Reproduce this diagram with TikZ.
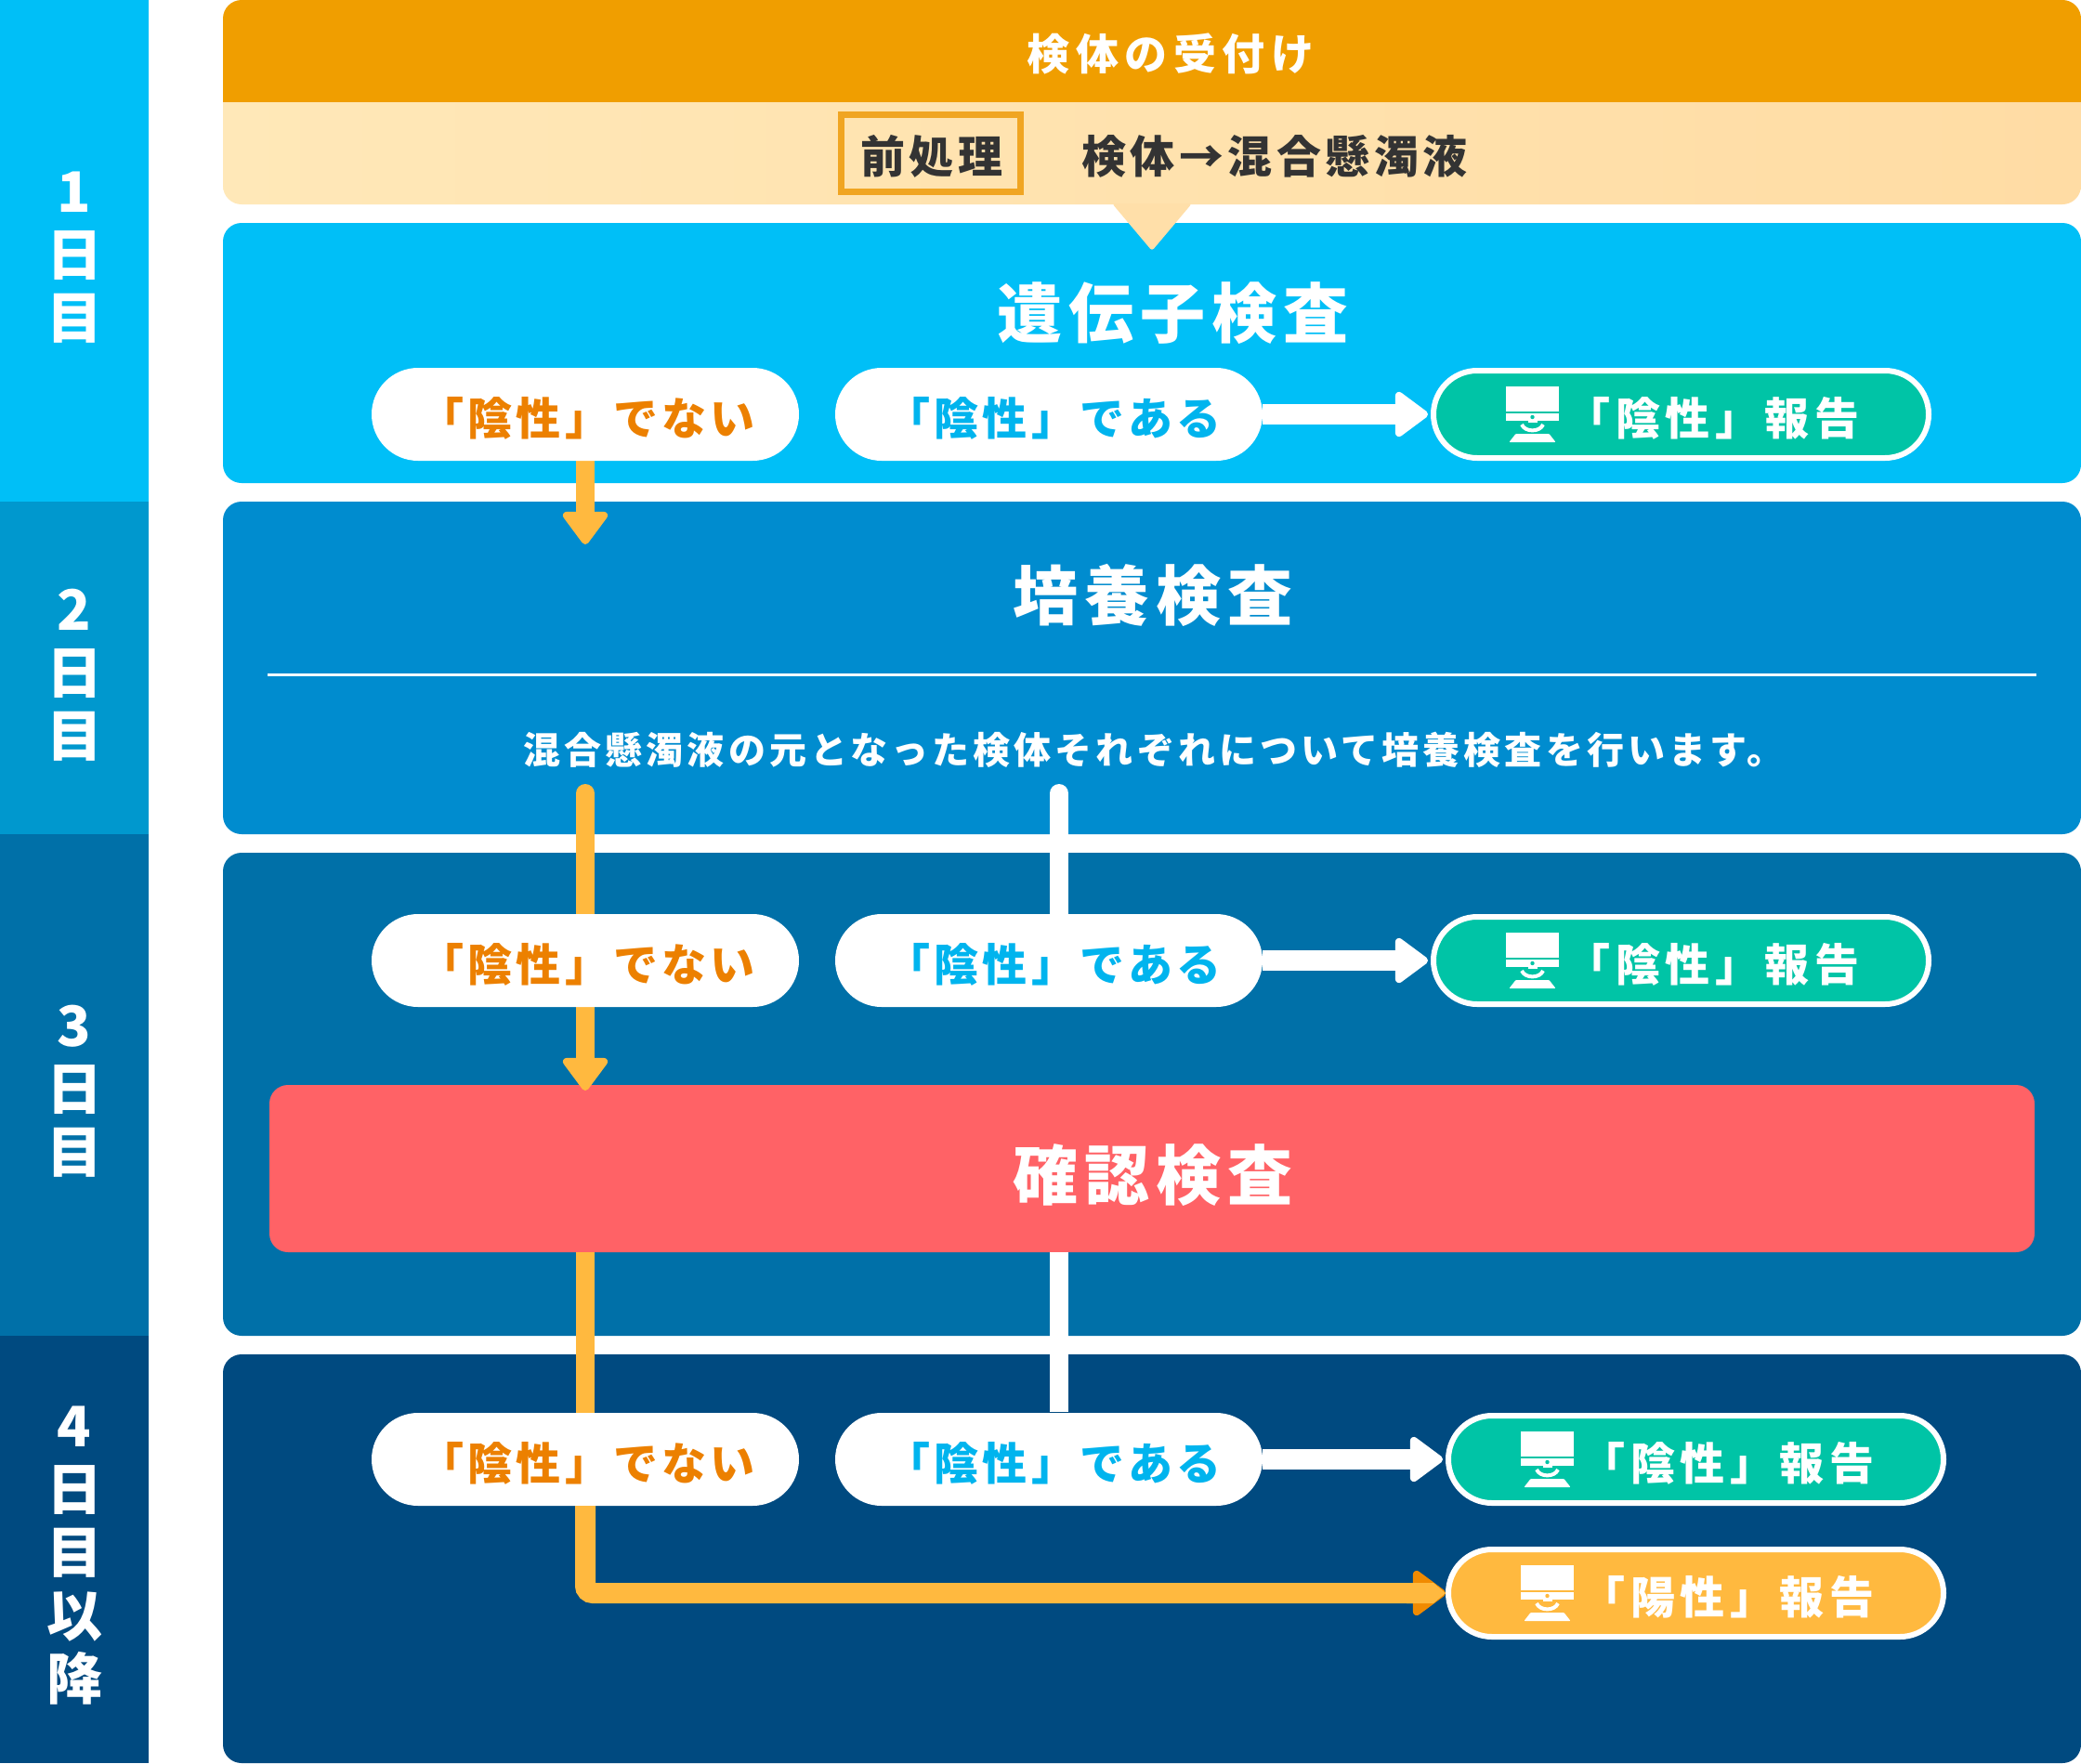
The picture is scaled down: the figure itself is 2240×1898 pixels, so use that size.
\documentclass[tikz,border=0pt]{standalone}
\usepackage{fontspec}
\usetikzlibrary{arrows.meta,calc,backgrounds}
\newfontfamily\jpA[LetterSpace=14]{Noto Sans CJK JP}
\newfontfamily\jpB[LetterSpace=10]{Noto Sans CJK JP}
\newfontfamily\jpC[LetterSpace=0]{Noto Sans CJK JP}
\newfontfamily\jpD[LetterSpace=11.5]{Noto Sans CJK JP}
\newfontfamily\jpG[LetterSpace=9]{Noto Sans CJK JP}
\newfontfamily\jpE[LetterSpace=9.5]{Noto Sans CJK JP}
\newfontfamily\jpF[LetterSpace=10.3]{Noto Sans CJK JP}
\definecolor{cyanA}{HTML}{00BFF7}
\definecolor{barB}{HTML}{0098CE}
\definecolor{boxB}{HTML}{008CCF}
\definecolor{boxC}{HTML}{0070A8}
\definecolor{boxD}{HTML}{004A80}
\definecolor{bandO}{HTML}{F09E00}
\definecolor{frameO}{HTML}{F0A522}
\definecolor{tealR}{HTML}{00C4A6}
\definecolor{yellowR}{HTML}{FFB93F}
\definecolor{redB}{HTML}{FF6266}
\definecolor{inkD}{HTML}{333333}
\definecolor{inkO}{HTML}{EC8000}
\definecolor{inkB}{HTML}{00B4EE}
\definecolor{headO}{HTML}{F08A00}
\definecolor{creamL}{HTML}{FFE8B8}
\definecolor{creamR}{HTML}{FFDCA4}
\definecolor{creamT}{HTML}{FFDFA9}
\pgfdeclarelayer{conn}
\pgfsetlayers{background,conn,main}
\tikzset{
  x=1pt,y=-1pt,
  every node/.style={inner sep=0pt,outer sep=0pt},
  panel/.style={rounded corners=20pt},
  bartxt/.style={align=center,text=white,font=\jpC\bfseries\fontsize{60}{68}\selectfont},
  bandtxt/.style={font=\jpA\bfseries\fontsize{46}{50}\selectfont},
  bigtxt/.style={text=white,font=\jpB\bfseries\fontsize{70}{76}\selectfont},
  pilltxt/.style={font=\jpG\bfseries\fontsize{48}{52}\selectfont},
  reptxt/.style={font=\jpD\bfseries\fontsize{48}{52}\selectfont},
  pretxtstyle/.style={text=inkD,font=\jpE\bfseries\fontsize{48}{52}\selectfont},
  pillw/.style={fill=white,minimum width=460pt,minimum height=100pt,rounded corners=50pt},
  report/.style={draw=white,line width=6pt,fill=#1,minimum width=533pt,minimum height=94pt,rounded corners=47pt},
  flow/.style={line width=20pt,draw=#1},
  flowh/.style={line width=22pt,draw=#1},
  ahead/.style={-{Triangle[width=54pt,length=38pt,round,line width=8pt]}},
  pics/monitor/.style={code={
    \fill[white] (-28.5,-30) rectangle (28.5,-3);
    \fill[white] (-28.5,-1) rectangle (28.5,7);
    \fill[white] (-5,7) rectangle (5,9);
    \fill[#1] (0,3) circle (2.2);
    \draw[white,line width=4pt] (-11.5,11) .. controls (-8,19.5) and (8,19.5) .. (11.5,11);
    \fill[white,rounded corners=0.8pt] (-18,21) -- (18,21) -- (25,30) -- (-25,30) -- cycle;
  }}
}
\newcommand\PillNo[2]{\node[pillw,label={[pilltxt,text=inkO,yshift=-4pt]center:\hspace*{4pt}「陰性」でない}] (#1) at (630,#2) {};}
\newcommand\PillYes[2]{\node[pillw,label={[pilltxt,text=inkB,yshift=-4pt]center:\hspace*{10pt}「陰性」である}] (#1) at (1129,#2) {};}
\newcommand\Report[5]{% name, x, y, colour, text
  \node[report=#4,label={[reptxt,text=white,yshift=-4pt]center:\hspace*{68pt}#5}] (#1) at (#2,#3) {};
  \pic at ($(#1.center)+(-160,0)$) {monitor=#4};}
\begin{document}
\begin{tikzpicture}
\useasboundingbox (0,0) rectangle (2240,1898);
\begin{pgfonlayer}{background}
\fill[white] (0,0) rectangle (2240,1898);
% left bars
\fill[cyanA] (0,0) rectangle (160,540);
\fill[barB] (0,540) rectangle (160,898);
\fill[boxC] (0,898) rectangle (160,1438);
\fill[boxD] (0,1438) rectangle (160,1898);
% top bands
\fill[bandO,panel] (240,0) rectangle (2240,60);
\fill[bandO] (240,30) rectangle (2240,110);
\begin{scope}
\clip[panel] (240,60) rectangle (2240,220);
\shade[left color=creamL,right color=creamR] (240,110) rectangle (2240,220);
\end{scope}
% panels
\fill[cyanA,panel] (240,240) rectangle (2240,520);
\fill[boxB,panel] (240,540) rectangle (2240,898);
\fill[boxC,panel] (240,918) rectangle (2240,1438);
\fill[boxD,panel] (240,1458) rectangle (2240,1898);
\fill[redB,panel] (290,1168) rectangle (2190,1348);
\fill[creamT,rounded corners=3pt] (1197,219) -- (1283,219) -- (1240,270) -- cycle;
\end{pgfonlayer}
% day labels
\node[bartxt] (d1) at (80,277) {1\\日\\目};
\node[bartxt] (d2) at (80,727) {2\\日\\目};
\node[bartxt] (d3) at (80,1175) {3\\日\\目};
\node[bartxt] (d4) at (80,1675) {4\\日\\目\\以\\降};
% headers
\node[bandtxt,text=white] (recv) at (1260,58) {検体の受付け};
\node[draw=frameO,line width=7pt,minimum width=193pt,minimum height=83pt] (pre) at (1002,165) {};
\node[pretxtstyle] (pretxt) at (1003,168) {前処理};
\node[pretxtstyle] (mix) at (1372,168) {検体→混合懸濁液};
\node[bigtxt] (gene) at (1262,337) {遺伝子検査};
\node[bigtxt] (cult) at (1241,641) {培養検査};
\draw[white,line width=3pt] (288,726) coordinate (hrL) -- (2192,726) coordinate (hrR);
\node[text=white,font=\jpF\bfseries\fontsize{40}{44}\selectfont] (para) at (1242,807) {混合懸濁液の元となった検体それぞれについて培養検査を行います。};
\node[bigtxt] (conf) at (1241,1265) {確認検査};
% pills
\PillNo{n1}{446} \PillYes{y1}{446} \Report{r1}{1809.5}{446}{tealR}{「陰性」報告}
\PillNo{n3}{1034} \PillYes{y3}{1034} \Report{r3}{1809.5}{1034}{tealR}{「陰性」報告}
\PillNo{n4}{1571} \PillYes{y4}{1571} \Report{r4}{1825.5}{1571}{tealR}{「陰性」報告}
\Report{r5}{1825.5}{1715}{yellowR}{「陽性」報告}
% connector ends
\coordinate (t1) at (630,586);
\coordinate (s2) at (630,854);
\coordinate (t2) at (630,1174);
\coordinate (w2) at (1140,854);
\coordinate (w3) at (1140,1348);
\coordinate (w4) at (1140,1520);
\coordinate (o3) at (630,1348);
\coordinate (c4) at (630,1715);
\begin{pgfonlayer}{conn}
\draw[flow=white,line cap=round] (w2) -- (1140,1034);
\draw[flow=white] (w3) -- (w4);
\draw[flowh=white,ahead] (y1.east) -- ($(r1.west)+(-6,0)$);
\draw[flowh=white,ahead] (y3.east) -- ($(r3.west)+(-6,0)$);
\draw[flowh=white,ahead] (y4.east) -- ($(r4.west)+(-6,0)$);
\draw[flow=yellowR,ahead] (n1.south) -- (t1);
\draw[flow=yellowR,line cap=round] (s2) -- (630,1000);
\draw[flow=yellowR,ahead] (630,1000) -- (t2);
\draw[flow=yellowR] (o3) -- (n4.north);
\end{pgfonlayer}
\draw[flowh=yellowR,-{Triangle[width=54pt,length=38pt,round,line width=8pt,fill=headO,color=headO]},rounded corners=8pt] (n4.south) -- (c4) -- ($(r5.west)+(-3,0)$);
\fill[yellowR] ($(r5.west)+(-45,-11)$) -- ($(r5.west)+(-16,-11)$) -- ($(r5.west)+(-3,0)$) -- ($(r5.west)+(-16,11)$) -- ($(r5.west)+(-45,11)$) -- cycle;
\end{tikzpicture}
\end{document}
